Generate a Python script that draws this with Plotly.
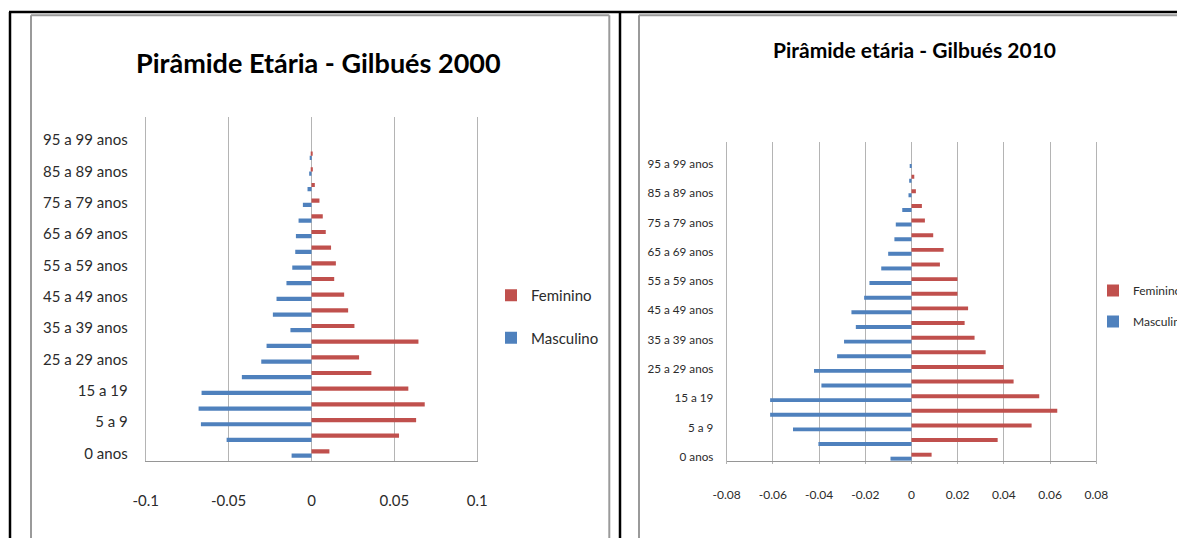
import plotly.graph_objects as go
import numpy as np

W, H = 1177, 538

# ---------------- data ----------------
age_groups = ["0 anos", "1 a 4 anos", "5 a 9", "10 a 14", "15 a 19", "20 a 24 anos",
              "25 a 29 anos", "30 a 34 anos", "35 a 39 anos", "40 a 44 anos",
              "45 a 49 anos", "50 a 54 anos", "55 a 59 anos", "60 a 64 anos",
              "65 a 69 anos", "70 a 74 anos", "75 a 79 anos", "80 a 84 anos",
              "85 a 89 anos", "90 a 94 anos", "95 a 99 anos", "100 anos ou mais"]
shown_labels = age_groups[::2]

fem_2000 = [0.0108, 0.0528, 0.0631, 0.0683, 0.0584, 0.0361, 0.0287, 0.0645, 0.0259, 0.0221,
            0.0197, 0.0137, 0.0147, 0.0118, 0.0086, 0.0068, 0.0048, 0.0020, 0.0008, 0.0002,
            0.0, 0.0]
masc_2000 = [-0.0120, -0.0512, -0.0667, -0.0681, -0.0663, -0.0420, -0.0303, -0.0271, -0.0127,
             -0.0233, -0.0211, -0.0151, -0.0116, -0.0098, -0.0094, -0.0078, -0.0052, -0.0024,
             -0.0014, -0.0008, 0.0, 0.0]

fem_2010 = [0.0087, 0.0373, 0.0520, 0.0631, 0.0553, 0.0442, 0.0399, 0.0321, 0.0273, 0.0230,
            0.0245, 0.0199, 0.0199, 0.0123, 0.0139, 0.0094, 0.0058, 0.0045, 0.0019, 0.0012,
            0.0, 0.0]
masc_2010 = [-0.0091, -0.0403, -0.0513, -0.0612, -0.0612, -0.0390, -0.0422, -0.0322, -0.0292,
             -0.0241, -0.0260, -0.0205, -0.0182, -0.0131, -0.0101, -0.0074, -0.0068, -0.0040,
             -0.0013, -0.0010, -0.0004, 0.0]

title_2000 = "Pirâmide Etária - Gilbués 2000"
title_2010 = "Pirâmide etária - Gilbués 2010"
x_ticks_2000 = [-0.1, -0.05, 0, 0.05, 0.1]
x_ticks_2010 = [-0.08, -0.06, -0.04, -0.02, 0, 0.02, 0.04, 0.06, 0.08]

# ---------------- styling ----------------
RED = "#C0504D"
BLUE = "#4F81BD"
GRID = "#b4b4b4"
AXIS = "#969696"
TXT = "#2b2b2b"
FONT = "Lato, Liberation Sans, sans-serif"


def PX(x):
    return x / W


def PY(y):
    return 1 - y / H


# plot-area boxes in pixels
L = dict(x0=145.7, x1=477.3, y0=116.6, y1=461.3)
R = dict(x0=726.7, x1=1096.3, y0=142.1, y1=464.0)

n = len(age_groups)
boundaries = list(np.arange(n + 1) - 0.5)

fig = go.Figure()

fig.add_trace(go.Bar(y=age_groups, x=masc_2000, orientation="h", name="Masculino",
                     marker=dict(color=BLUE, line=dict(width=0)), xaxis="x", yaxis="y",
                     legend="legend", legendgroup="m", legendrank=2))
fig.add_trace(go.Bar(y=age_groups, x=fem_2000, orientation="h", name="Feminino",
                     marker=dict(color=RED, line=dict(width=0)), xaxis="x", yaxis="y",
                     legend="legend", legendgroup="f", legendrank=1))
fig.add_trace(go.Bar(y=age_groups, x=masc_2010, orientation="h", name="Masculino",
                     marker=dict(color=BLUE, line=dict(width=0)), xaxis="x2", yaxis="y2",
                     legend="legend2", legendgroup="m2", legendrank=2))
fig.add_trace(go.Bar(y=age_groups, x=fem_2010, orientation="h", name="Feminino",
                     marker=dict(color=RED, line=dict(width=0)), xaxis="x2", yaxis="y2",
                     legend="legend2", legendgroup="f2", legendrank=1))


def xaxis_cfg(box, rng, ticks, size, standoff):
    return dict(domain=[PX(box["x0"]), PX(box["x1"])], range=rng, tickvals=ticks,
                ticktext=[("%g" % t) for t in ticks], showgrid=True, gridcolor=GRID,
                gridwidth=1, zeroline=False, showline=True, linecolor=AXIS, linewidth=1,
                ticks="", ticklabelstandoff=standoff, automargin=False,
                tickfont=dict(family=FONT, size=size, color=TXT), fixedrange=True)


def yaxis_cfg(box, anchor, size, standoff):
    return dict(domain=[PY(box["y1"]), PY(box["y0"])], type="category",
                categoryorder="array", categoryarray=age_groups, range=[-0.5, n - 0.5],
                tickvals=shown_labels, ticktext=shown_labels, showgrid=False,
                zeroline=False, showline=True, mirror=True, linecolor=GRID, linewidth=1,
                ticks="", anchor=anchor, ticklabelstandoff=standoff, automargin=False,
                tickfont=dict(family=FONT, size=size, color=TXT), fixedrange=True)


def zero_axis(box, rng, overlay):
    zero_pos = PX(box["x0"] + (0 - rng[0]) / (rng[1] - rng[0]) * (box["x1"] - box["x0"]))
    return dict(overlaying=overlay, anchor="free", position=zero_pos, side="left",
                range=[-0.5, n - 0.5], tickvals=boundaries, showticklabels=False,
                ticks="outside", ticklen=5, tickcolor=AXIS, showline=True,
                linecolor=AXIS, linewidth=1, showgrid=False, zeroline=False,
                automargin=False, fixedrange=True)


fig.update_layout(
    width=W, height=H,
    margin=dict(l=0, r=0, t=0, b=0, autoexpand=False),
    paper_bgcolor="white", plot_bgcolor="white",
    barmode="group", bargap=0.46, bargroupgap=0,
    xaxis=xaxis_cfg(L, [-0.1, 0.1], x_ticks_2000, 15, 26),
    yaxis=yaxis_cfg(L, "x", 15, 14),
    xaxis2=xaxis_cfg(R, [-0.08, 0.08], x_ticks_2010, 12, 22),
    yaxis2=yaxis_cfg(R, "x2", 11.7, 10),
    yaxis3=zero_axis(L, [-0.1, 0.1], "y"),
    yaxis4=zero_axis(R, [-0.08, 0.08], "y2"),
    legend=dict(x=PX(491), y=PY(279), xanchor="left", yanchor="top",
                traceorder="grouped", tracegroupgap=20,
                bgcolor="rgba(0,0,0,0)", font=dict(family=FONT, size=15, color=TXT)),
    legend2=dict(x=PX(1093), y=PY(276), xanchor="left", yanchor="top",
                 traceorder="grouped", tracegroupgap=12,
                 bgcolor="rgba(0,0,0,0)", font=dict(family=FONT, size=12, color=TXT)),
    showlegend=True,
)

# titles
fig.add_annotation(text="<b>" + title_2000 + "</b>", x=PX(319), y=PY(63), xref="paper",
                   yref="paper", showarrow=False, xanchor="center", yanchor="middle",
                   font=dict(family=FONT, size=27, color="black"))
fig.add_annotation(text="<b>" + title_2010 + "</b>", x=PX(914), y=PY(50), xref="paper",
                   yref="paper", showarrow=False, xanchor="center", yanchor="middle",
                   font=dict(family=FONT, size=21, color="black"))

# frames
shapes = []
BLK = dict(color="black", width=2.5)
shapes.append(dict(type="line", xref="paper", yref="paper", x0=PX(9), x1=PX(1185),
                   y0=PY(12), y1=PY(12), line=BLK))
shapes.append(dict(type="line", xref="paper", yref="paper", x0=PX(10), x1=PX(10),
                   y0=PY(12), y1=PY(545), line=BLK))
shapes.append(dict(type="line", xref="paper", yref="paper", x0=PX(620), x1=PX(620),
                   y0=PY(12), y1=PY(545), line=BLK))
FR = dict(color="#9a9a9a", width=2)
shapes.append(dict(type="line", xref="paper", yref="paper", x0=PX(31), x1=PX(609.3),
                   y0=PY(15.2), y1=PY(15.2), line=FR))
shapes.append(dict(type="line", xref="paper", yref="paper", x0=PX(31), x1=PX(31),
                   y0=PY(15.2), y1=PY(545), line=FR))
shapes.append(dict(type="line", xref="paper", yref="paper", x0=PX(609.3), x1=PX(609.3),
                   y0=PY(15.2), y1=PY(545), line=FR))
shapes.append(dict(type="line", xref="paper", yref="paper", x0=PX(639), x1=PX(1185),
                   y0=PY(15.2), y1=PY(15.2), line=FR))
shapes.append(dict(type="line", xref="paper", yref="paper", x0=PX(639), x1=PX(639),
                   y0=PY(15.2), y1=PY(545), line=FR))
fig.update_layout(shapes=shapes)

fig.write_html("out.html", config={"displayModeBar": False},
               post_script="document.body.style.margin='0px';")
